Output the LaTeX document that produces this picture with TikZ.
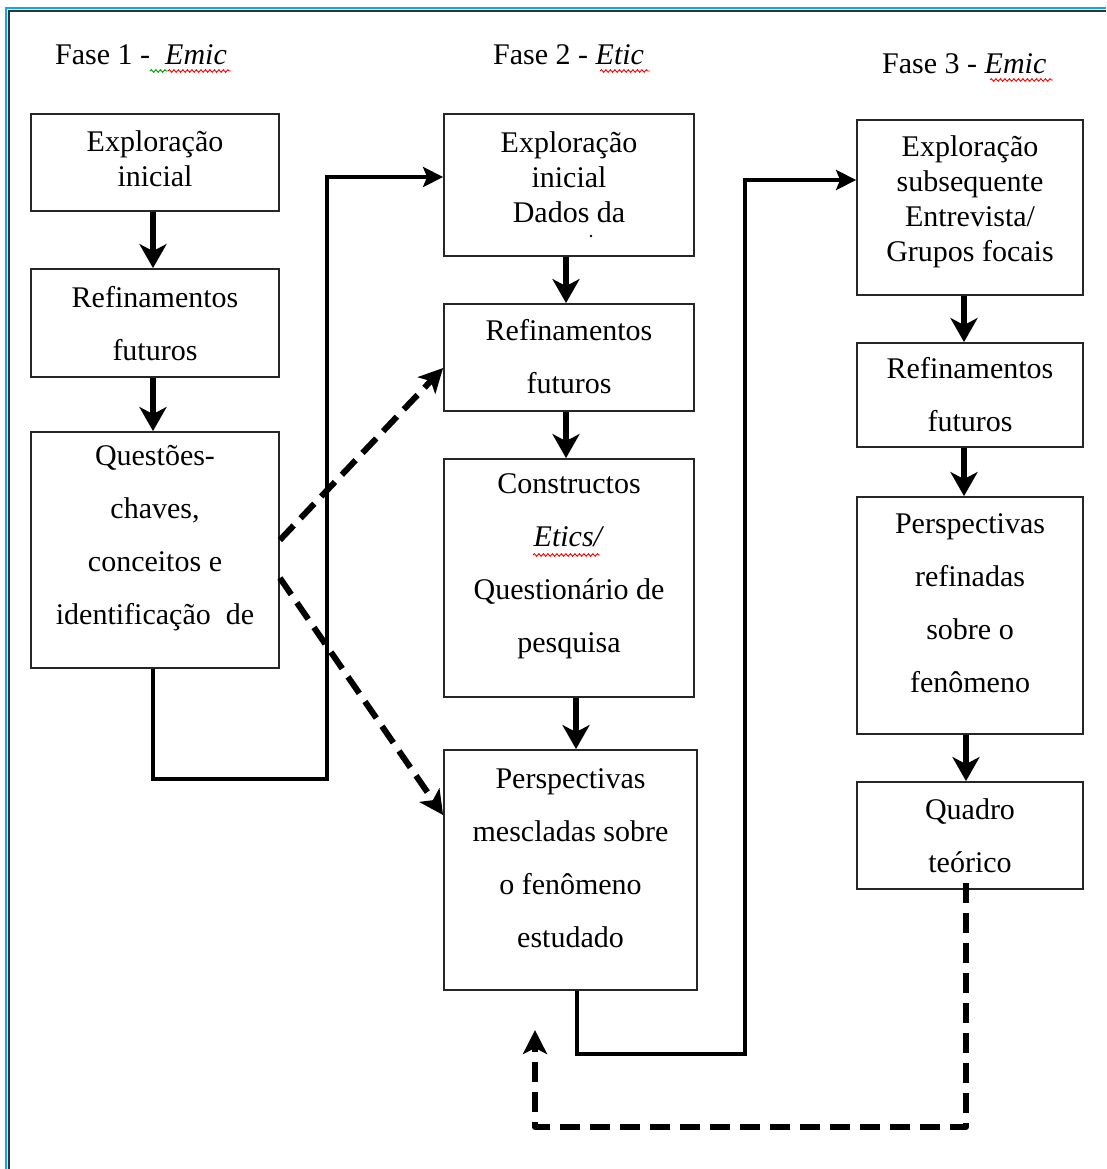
\documentclass[tikz,border=0pt]{standalone}
\usepackage{fontspec}
\setmainfont{Liberation Serif}
\usetikzlibrary{arrows.meta,decorations.pathmorphing}

\begin{document}
\begin{tikzpicture}[x=1pt,y=-1pt,
  box/.style={draw=black!85, line width=1.8pt, inner sep=0pt},
  single/.style={font=\fontsize{30}{35}\selectfont, align=center, inner sep=0pt},
  double/.style={font=\fontsize{30}{53}\selectfont, align=center, inner sep=0pt},
  head/.style={font=\fontsize{30}{35}\selectfont, inner sep=0pt, anchor=base west},
  flow/.style={line width=5.5pt, -{Stealth[length=24pt,width=27pt,inset=7pt]}},
  link/.style={line width=4pt, line join=miter, -{Stealth[length=20pt,width=20pt,inset=4pt]}},
  dashlink/.style={line width=6pt, line join=round, dash pattern=on 20pt off 10pt,
                   -{Stealth[length=24pt,width=24pt,inset=6pt]}},
  squig/.style={line width=0.9pt, decorate, decoration={snake, amplitude=1.3pt, segment length=4.5pt}}
]
\useasboundingbox (0,0) rectangle (1106,1169);
\fill[white] (0,0) rectangle (1106,1169);

% page frame
\draw[cyan, line width=2.5pt] (6,1169) -- (6,8) -- (1106,8);
\draw[black!80, line width=2pt] (9,1169) -- (9,11) -- (1106,11);

% phase headings
\node[head] (h1) at (55,65) {Fase 1 - \ \textit{Emic}};
\node[head] (h2) at (493,65) {Fase 2 - \textit{Etic}};
\node[head] (h3) at (882,74) {Fase 3 - \textit{Emic}};
\draw[squig, green!60!black] (150,71) -- (168,71);
\draw[squig, red] (168,71) -- (231,71);
\draw[squig, red] (600,71) -- (650,71);
\draw[squig, red] (990,80) -- (1053,80);

% phase 1
\node[box, minimum width=248, minimum height=97]  (b1) at (155,162.5) {};
\node[box, minimum width=248, minimum height=108] (b2) at (155,323) {};
\node[box, minimum width=248, minimum height=236] (b3) at (155,550) {};
\node[single] (b1t) at (155,159) {Exploração\\inicial};
\node[double] (b2t) at (155,323.5) {Refinamentos\\futuros};
\node[double] (b3t) at (155,538) {Questões-\\chaves,\\conceitos e\\identificação \ de};

% phase 2
\node[box, minimum width=250, minimum height=142] (c1) at (569,185) {};
\node[box, minimum width=250, minimum height=107] (c2) at (569,357.5) {};
\node[box, minimum width=250, minimum height=238] (c3) at (569,578) {};
\node[box, minimum width=253, minimum height=240] (c4) at (570.5,870) {};
\node[single] (c1t) at (569,177) {Exploração\\inicial\\Dados da};
\fill (591,236) circle (1.3);
\node[double] (c2t) at (569,357) {Refinamentos\\futuros};
\node[double] (c3t) at (569,566.5) {Constructos\\\textit{Etics/}\\Questionário de\\pesquisa};
\draw[squig, red] (533,555) -- (600,555);
\node[double] (c4t) at (570.5,858) {Perspectivas\\mescladas sobre\\o fenômeno\\estudado};

% phase 3
\node[box, minimum width=226, minimum height=175] (d1) at (970,207.5) {};
\node[box, minimum width=226, minimum height=104] (d2) at (970,395) {};
\node[box, minimum width=226, minimum height=237] (d3) at (970,615.5) {};
\node[box, minimum width=226, minimum height=107] (d4) at (970,835.5) {};
\node[single] (d1t) at (970,202) {Exploração\\subsequente\\Entrevista/\\Grupos focais};
\node[double] (d2t) at (970,394.5) {Refinamentos\\futuros};
\node[double] (d3t) at (970,603.5) {Perspectivas\\refinadas\\sobre o\\fenômeno};
\node[double] (d4t) at (970,836) {Quadro\\teórico};

% vertical flow inside each phase
\draw[flow] ([xshift=-2pt]b1.south) -- ([xshift=-2pt]b2.north);
\draw[flow] ([xshift=-2pt]b2.south) -- ([xshift=-2pt]b3.north);
\draw[flow] ([xshift=-3pt]c1.south) -- ([xshift=-3pt]c2.north);
\draw[flow] ([xshift=-3pt]c2.south) -- ([xshift=-3pt]c3.north);
\draw[flow] ([xshift=7pt]c3.south) -- ([xshift=7pt]c3.south |- c4.north);
\draw[flow] ([xshift=-6pt]d1.south) -- ([xshift=-6pt]d2.north);
\draw[flow] ([xshift=-6pt]d2.south) -- ([xshift=-6pt]d3.north);
\draw[flow] ([xshift=-4pt]d3.south) -- ([xshift=-4pt]d4.north);

% links between phases
\draw[link] ([xshift=-2pt]b3.south) -- ([xshift=-2pt]b3.south |- 0,779) -| (327,177) -- (c1.west |- 0,177);
\draw[dashlink] (b3.east |- 0,540) -- (c2.west |- 0,368);
\draw[dashlink] (b3.east |- 0,578) -- (c4.west |- 0,815);
\draw[link] ([xshift=6pt]c4.south) -- ([xshift=6pt]c4.south |- 0,1054) -| (745,180) -- (d1.west |- 0,180);

% feedback from the theoretical frame
\coordinate (ret) at (535,1030);
\draw[dashlink] ([xshift=-4pt,yshift=7pt]d4.south) -- ([xshift=-4pt]d4.south |- 0,1127) -| (ret);
\end{tikzpicture}
\end{document}
